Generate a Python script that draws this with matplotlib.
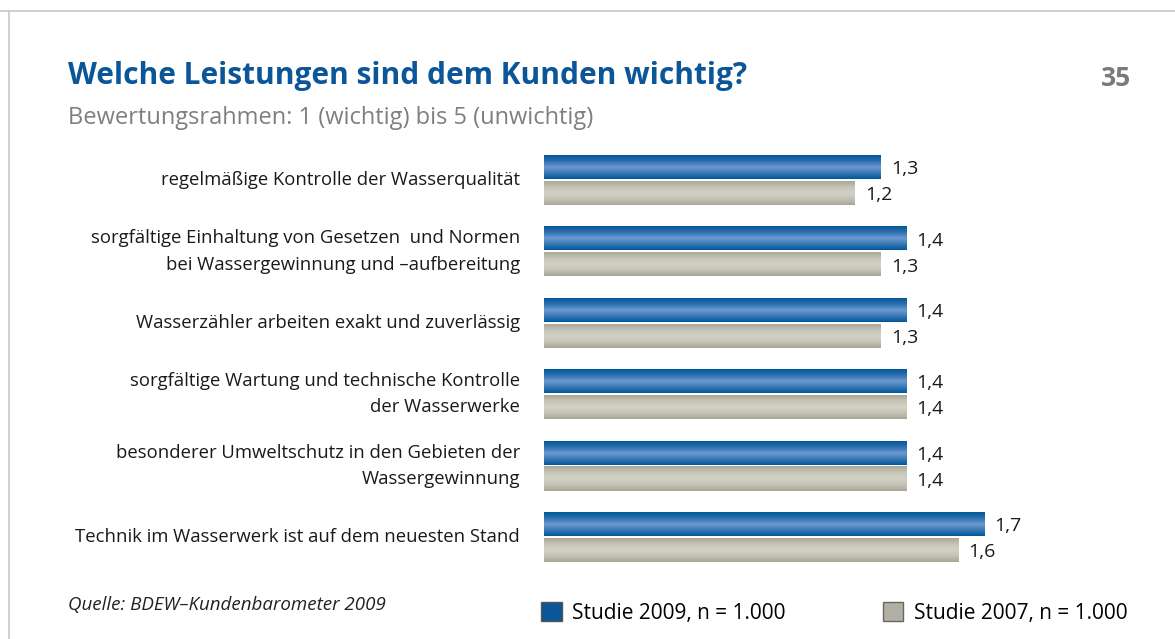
import matplotlib.pyplot as plt
import numpy as np
from matplotlib.colors import LinearSegmentedColormap
from matplotlib.lines import Line2D
from matplotlib.patches import Patch

categories = [
    "regelmäßige Kontrolle der Wasserqualität",
    "sorgfältige Einhaltung von Gesetzen  und Normen\nbei Wassergewinnung und –aufbereitung",
    "Wasserzähler arbeiten exakt und zuverlässig",
    "sorgfältige Wartung und technische Kontrolle\nder Wasserwerke",
    "besonderer Umweltschutz in den Gebieten der\nWassergewinnung",
    "Technik im Wasserwerk ist auf dem neuesten Stand",
]
values_2009 = [1.3, 1.4, 1.4, 1.4, 1.4, 1.7]
values_2007 = [1.2, 1.3, 1.3, 1.4, 1.4, 1.6]
series_labels = ["Studie 2009, n = 1.000", "Studie 2007, n = 1.000"]

W, H = 1175, 639
BLUE = "#0b5699"
FONT = "Open Sans"

blue_cmap = LinearSegmentedColormap.from_list(
    "blue", ["#00579a", "#2d6fae", "#6c9ad0", "#3a78b4", "#00589b"])
gray_cmap = LinearSegmentedColormap.from_list(
    "gray", ["#aaa798", "#c6c5b8", "#d2d1c5", "#c4c3b6", "#a9a697"])
grad = np.linspace(0, 1, 64).reshape(-1, 1)


def fmt(v: float) -> str:
    return f"{v:.1f}".replace(".", ",")


def main() -> None:
    plt.rcParams["font.family"] = [FONT, "DejaVu Sans"]
    fig = plt.figure(figsize=(W / 100, H / 100), dpi=100)

    # frame lines top and left
    fig.add_artist(Line2D([0, 1], [1 - 11 / H, 1 - 11 / H], color="#c8c8c8", lw=1.2))
    fig.add_artist(Line2D([9 / W, 9 / W], [0, 1 - 11 / H], color="#c8c8c8", lw=1.2))

    fig.text(68 / W, 1 - 76 / H, "Welche Leistungen sind dem Kunden wichtig?",
             fontsize=21.5, fontweight="bold", color=BLUE, va="center")
    fig.text(1131 / W, 1 - 78 / H, "35", fontsize=19, fontweight="bold",
             color="#7a7a7a", va="center", ha="right")
    fig.text(68 / W, 1 - 118 / H, "Bewertungsrahmen: 1 (wichtig) bis 5 (unwichtig)",
             fontsize=17, color="#7f7f7f", va="center")
    fig.text(68 / W, 1 - 605 / H, "Quelle: BDEW–Kundenbarometer 2009",
             fontsize=13.5, style="italic", color="#222222", va="center")

    ax = fig.add_axes([544 / W, 1 - 580 / H, 590 / W, 440 / H])
    y = np.arange(len(categories))
    h = 0.336
    off = 0.182
    bars_new = ax.barh(y - off, values_2009, height=h, color="none")
    bars_old = ax.barh(y + off, values_2007, height=h, color="none")
    for bars, cmap in ((bars_new, blue_cmap), (bars_old, gray_cmap)):
        for bar in bars:
            x0, y0 = bar.get_x(), bar.get_y()
            ax.imshow(grad, cmap=cmap, aspect="auto", interpolation="bilinear",
                      extent=(x0, x0 + bar.get_width(), y0 + bar.get_height(), y0))
            ax.annotate(fmt(bar.get_width()), xy=(x0 + bar.get_width(), y0 + h / 2),
                        xytext=(7.2, -1.5), textcoords="offset points",
                        ha="left", va="center", fontsize=14, color="#1a1a1a")

    for i, label in enumerate(categories):
        ax.annotate(label, xy=(0, i), xytext=(-17.3, 0), textcoords="offset points",
                    ha="right", va="center", fontsize=13.3, color="#1a1a1a",
                    linespacing=1.6, annotation_clip=False)

    ax.set_xlim(0, 590 / 259)
    ax.set_ylim(5.60, -0.56)
    ax.axis("off")

    handles = [Patch(facecolor="#0b5699", edgecolor="#555555"),
               Patch(facecolor="#b2b0a2", edgecolor="#666666")]
    fig.legend(handles, series_labels, loc="center left",
               bbox_to_anchor=(541 / W, 1 - 613 / H), ncols=2, frameon=False,
               fontsize=15, handlelength=1.0, handleheight=1.0,
               handletextpad=0.5, columnspacing=4.65, borderpad=0,
               borderaxespad=0)

    fig.savefig("out.png", dpi=100)


if __name__ == "__main__":
    main()
